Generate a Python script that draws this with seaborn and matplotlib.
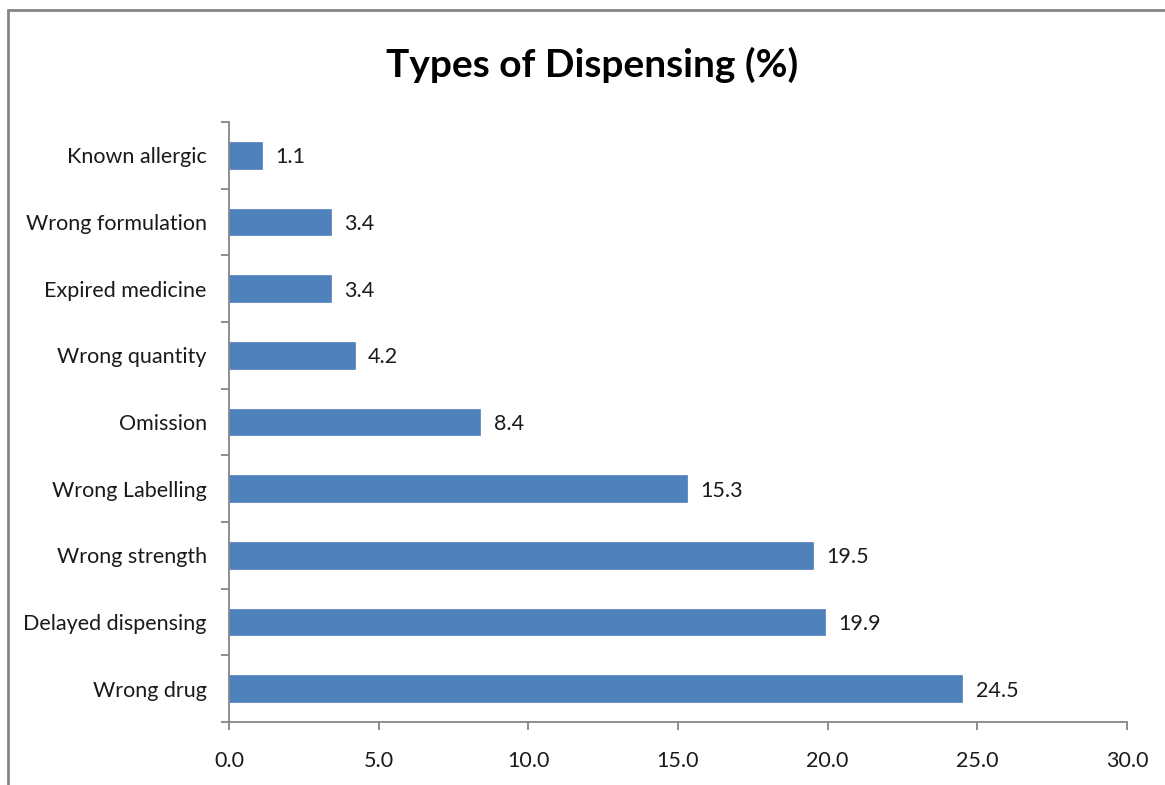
import matplotlib
matplotlib.use("Agg")
import matplotlib.pyplot as plt
from matplotlib.lines import Line2D
import seaborn as sns
import pandas as pd

categories = ["Known allergic", "Wrong formulation", "Expired medicine", "Wrong quantity",
              "Omission", "Wrong Labelling", "Wrong strength", "Delayed dispensing", "Wrong drug"]
values = [1.1, 3.4, 3.4, 4.2, 8.4, 15.3, 19.5, 19.9, 24.5]
xticks = [0.0, 5.0, 10.0, 15.0, 20.0, 25.0, 30.0]
title = "Types of Dispensing (%)"

sns.set_theme(style="white")
plt.rcParams['font.family'] = ['Lato', 'DejaVu Sans']

W, H = 1165, 785
fig = plt.figure(figsize=(W / 100, H / 100), dpi=100)
ax = fig.add_axes([229 / W, (H - 722) / H, (1127 - 229) / W, (722 - 122) / H])

df = pd.DataFrame({"cat": categories, "val": values})
sns.barplot(data=df, x="val", y="cat", color="#4F81BD", saturation=1, width=0.4,
            ax=ax, edgecolor="#4F81BD", linewidth=0.5)

axis_color = "#868686"
tick_color = "#1a1a1a"
fs = 15.5
ax.set_xlim(0, 30)
ax.set_ylim(len(categories) - 0.5, -0.5)
ax.set_xticks(xticks)
ax.set_xticklabels([f"{t:.1f}" for t in xticks], fontsize=fs, color=tick_color)
ax.set_yticks(range(len(categories)))
ax.set_yticklabels(categories, fontsize=fs, color=tick_color)
ax.set_yticks([i - 0.5 for i in range(len(categories) + 1)], minor=True)
ax.tick_params(axis="y", which="major", left=True, length=0, pad=16)
ax.tick_params(axis="y", which="minor", left=True, length=6, width=1.3, color=axis_color,
               direction="out")
ax.tick_params(axis="x", which="major", bottom=True, length=6, width=1.3, color=axis_color,
               direction="out", pad=15)
ax.set_xlabel("")
ax.set_ylabel("")
for s in ["top", "right"]:
    ax.spines[s].set_visible(False)
for s in ["left", "bottom"]:
    ax.spines[s].set_color(axis_color)
    ax.spines[s].set_linewidth(1.3)

for i, v in enumerate(values):
    ax.text(v + 0.45, i + 0.03, f"{v:.1f}", va="center", ha="left", fontsize=fs, color=tick_color)

fig.text(592 / W, 1 - 65 / H, title, ha="center", va="center", fontsize=28,
         fontweight="bold", color="black")

fig.add_artist(Line2D([8 / W, 1], [1 - 10 / H, 1 - 10 / H], transform=fig.transFigure,
                      color="#868686", lw=2))
fig.add_artist(Line2D([8 / W, 8 / W], [0, 1 - 10 / H], transform=fig.transFigure,
                      color="#868686", lw=2))

fig.savefig("out.png", dpi=100)
